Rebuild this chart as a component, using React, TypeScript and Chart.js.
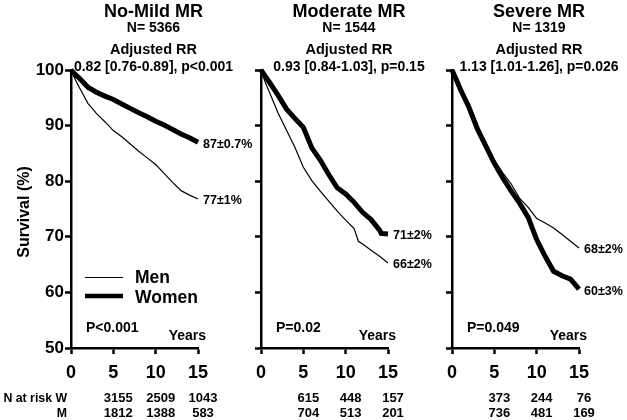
import React, { useEffect, useRef } from "react";
import Chart from "chart.js/auto";

const W = 627;
const H = 420;
const FONT = '"Liberation Sans", Arial, Helvetica, sans-serif';

// ---- data (survival %, years) ----
const years = [0, 0.5, 1, 2, 3, 4, 5, 6, 7, 8, 9, 10, 11, 12, 13, 14, 15];

const noMildMen = [100, 98.3, 96.8, 94, 92.2, 90.7, 89.1, 88, 86.7, 85.4, 84.2, 83, 81.4, 79.8, 78.3, 77.5, 76.8];
const noMildWomen = [100, 99.2, 98.5, 96.9, 96, 95.3, 94.7, 93.9, 93.1, 92.3, 91.6, 90.8, 90.1, 89.3, 88.5, 87.8, 87];

const moderateMenYears = [0, 0.5, 1, 2, 3, 4, 5, 6, 7, 8, 9, 10, 11, 11.5, 12, 13, 14, 15];
const moderateMen = [100, 97.8, 96, 92.3, 89.2, 86.1, 82.5, 80.1, 78.2, 76.4, 74.6, 73, 71.5, 69.2, 68.7, 67.6, 66.5, 65.3];
const moderateWomenYears = [0, 0.5, 1, 2, 3, 4, 5, 6, 7, 8, 9, 10, 11, 12, 13, 14, 14.2, 15];
const moderateWomen = [100, 98.9, 97.8, 95.5, 93, 91.3, 89.7, 86, 83.8, 81.2, 78.8, 77.7, 76.2, 74.4, 73.1, 71.2, 70.6, 70.5];

const severeMen = [100, 98.3, 96.5, 93.3, 89.6, 86.8, 83.8, 81.5, 79.5, 76.9, 75.3, 73.3, 72.5, 71.6, 70.4, 69.2, 68];
const severeWomen = [100, 98.3, 96.5, 93.3, 89.4, 86.3, 83.2, 80.6, 78.2, 76, 73.5, 69.5, 66.5, 63.8, 63, 62.4, 60.6];

const riskYears = [5, 10, 15];
const noMildRiskW = [3155, 2509, 1043];
const noMildRiskM = [1812, 1388, 583];
const moderateRiskW = [615, 448, 157];
const moderateRiskM = [704, 513, 201];
const severeRiskW = [373, 244, 76];
const severeRiskM = [736, 481, 169];

const xTicks = [0, 5, 10, 15];
const yTicks = [50, 60, 70, 80, 90, 100];

type Panel = {
  title: string;
  n: string;
  rr: string;
  p: string;
  menX: number[];
  men: number[];
  womenX: number[];
  women: number[];
  menLabel: string;
  womenLabel: string;
  riskW: number[];
  riskM: number[];
  plotLeft: number;
  plotRight: number;
  titleX: number;
  first: boolean;
};

const panels: Panel[] = [
  {
    title: "No-Mild MR", n: "N= 5366", rr: "0.82 [0.76-0.89], p<0.001", p: "P<0.001",
    menX: years, men: noMildMen, womenX: years, women: noMildWomen,
    menLabel: "77\u00b11%", womenLabel: "87\u00b10.7%",
    riskW: noMildRiskW, riskM: noMildRiskM,
    plotLeft: 71, plotRight: 198, titleX: 153.5, first: true,
  },
  {
    title: "Moderate MR", n: "N= 1544", rr: "0.93 [0.84-1.03], p=0.15", p: "P=0.02",
    menX: moderateMenYears, men: moderateMen, womenX: moderateWomenYears, women: moderateWomen,
    menLabel: "66\u00b12%", womenLabel: "71\u00b12%",
    riskW: moderateRiskW, riskM: moderateRiskM,
    plotLeft: 261, plotRight: 388, titleX: 349, first: false,
  },
  {
    title: "Severe MR", n: "N= 1319", rr: "1.13 [1.01-1.26], p=0.026", p: "P=0.049",
    menX: years, men: severeMen, womenX: years, women: severeWomen,
    menLabel: "68\u00b12%", womenLabel: "60\u00b13%",
    riskW: severeRiskW, riskM: severeRiskM,
    plotLeft: 452, plotRight: 579, titleX: 539, first: false,
  },
];

const PLOT_TOP = 70;
const PLOT_BOTTOM = 348;
const Y_W = 10;
const X_H = 40;

function makeAnnot(p: Panel) {
  return {
    id: "annot",
    afterDraw(chart: any) {
      const ctx: CanvasRenderingContext2D = chart.ctx;
      const { left, right } = chart.chartArea;
      const xs = chart.scales.x;
      const ys = chart.scales.y;
      ctx.save();
      ctx.fillStyle = "#000";
      ctx.strokeStyle = "#000";
      ctx.textBaseline = "alphabetic";
      ctx.textAlign = "center";
      ctx.font = `bold 18px ${FONT}`;
      ctx.fillText(p.title, p.titleX, 16.5);
      ctx.font = `bold 14px ${FONT}`;
      ctx.fillText(p.n, p.titleX, 32.3);
      ctx.font = `bold 14.5px ${FONT}`;
      ctx.fillText("Adjusted RR", p.titleX, 54);
      ctx.font = `bold 14px ${FONT}`;
      ctx.fillText(p.rr, p.titleX, 70.5);

      ctx.textAlign = "left";
      ctx.fillText(p.p, left + 15, 331.5);
      ctx.textAlign = "right";
      ctx.fillText("Years", right + 8, 340);

      ctx.textAlign = "left";
      ctx.textBaseline = "middle";
      ctx.font = `bold 12.5px ${FONT}`;
      ctx.fillText(p.womenLabel, right + 5, ys.getPixelForValue(p.women[p.women.length - 1]) + 2);
      ctx.fillText(p.menLabel, right + 5, ys.getPixelForValue(p.men[p.men.length - 1]) + 2);

      ctx.textAlign = "center";
      ctx.textBaseline = "alphabetic";
      ctx.font = `bold 13px ${FONT}`;
      riskYears.forEach((t, i) => {
        const x = xs.getPixelForValue(t) + 5;
        ctx.fillText(String(p.riskW[i]), x, 401.5);
        ctx.fillText(String(p.riskM[i]), x, 416.5);
      });

      if (p.first) {
        ctx.textAlign = "right";
        ctx.font = `bold 12.3px ${FONT}`;
        ctx.fillText("N at risk W", 67, 401.5);
        ctx.fillText("M", 67, 416.5);

        // y-axis title
        ctx.save();
        ctx.translate(25, 212);
        ctx.rotate(-Math.PI / 2);
        ctx.textAlign = "center";
        ctx.textBaseline = "middle";
        ctx.font = `bold 16px ${FONT}`;
        ctx.fillText("Survival (%)", 0, 0);
        ctx.restore();

        // legend
        ctx.lineWidth = 1.2;
        ctx.beginPath();
        ctx.moveTo(85, 277.5);
        ctx.lineTo(123, 277.5);
        ctx.stroke();
        ctx.lineWidth = 4.5;
        ctx.beginPath();
        ctx.moveTo(85, 296);
        ctx.lineTo(123, 296);
        ctx.stroke();
        ctx.textAlign = "left";
        ctx.font = `bold 17.5px ${FONT}`;
        ctx.fillText("Men", 135, 283);
        ctx.fillText("Women", 135, 302.5);
      }
      ctx.restore();
    },
  };
}

function PanelChart({ p }: { p: Panel }) {
  const ref = useRef<HTMLCanvasElement | null>(null);
  useEffect(() => {
    if (!ref.current) return;
    const yW = p.first ? 71 : Y_W;
    const axisGrid = {
      drawOnChartArea: false,
      drawTicks: true,
      tickLength: 6,
      tickWidth: 2.5,
      tickColor: "#000",
      color: "#000",
    };
    const axisBorder = { display: true, color: "#000", width: 2.5 };
    const chart = new Chart(ref.current, {
      type: "line",
      data: {
        datasets: [
          {
            label: "Men",
            data: p.menX.map((x, i) => ({ x, y: p.men[i] })),
            borderColor: "#000",
            borderWidth: 1.2,
            pointRadius: 0,
            tension: 0,
            fill: false,
            clip: false,
          } as any,
          {
            label: "Women",
            data: p.womenX.map((x, i) => ({ x, y: p.women[i] })),
            borderColor: "#000",
            borderWidth: 5,
            pointRadius: 0,
            tension: 0,
            fill: false,
            clip: false,
          } as any,
        ],
      },
      options: {
        animation: false,
        responsive: false,
        events: [],
        layout: {
          padding: {
            left: p.plotLeft - yW,
            right: W - p.plotRight,
            top: PLOT_TOP,
            bottom: H - PLOT_BOTTOM - X_H,
          },
        },
        plugins: {
          legend: { display: false },
          tooltip: { enabled: false },
        },
        scales: {
          x: {
            type: "linear",
            min: 0,
            max: 15,
            afterFit: (s: any) => {
              s.height = X_H;
            },
            afterBuildTicks: (s: any) => {
              s.ticks = xTicks.map((v) => ({ value: v }));
            },
            ticks: {
              color: "#000",
              font: { family: FONT, size: 18, weight: "bold" },
              padding: 8,
              maxRotation: 0,
              autoSkip: false,
            },
            grid: axisGrid,
            border: axisBorder,
          },
          y: {
            type: "linear",
            min: 50,
            max: 100,
            afterFit: (s: any) => {
              s.width = yW;
            },
            afterBuildTicks: (s: any) => {
              s.ticks = yTicks.map((v) => ({ value: v }));
            },
            ticks: {
              color: "#000",
              font: { family: FONT, size: 17, weight: "bold" },
              padding: 1,
              autoSkip: false,
              callback: (v: any) => (p.first ? String(v) : ""),
            },
            grid: axisGrid,
            border: axisBorder,
          },
        },
      } as any,
      plugins: [makeAnnot(p)],
    });
    return () => chart.destroy();
  }, [p]);
  return (
    <canvas
      ref={ref}
      width={W}
      height={H}
      style={{ position: "absolute", left: 0, top: 0, width: W, height: H, display: "block" }}
    />
  );
}

export default function App() {
  return (
    <div
      style={{
        position: "fixed",
        left: 0,
        top: 0,
        width: W,
        height: H,
        background: "#fff",
        overflow: "hidden",
      }}
    >
      {panels.map((p) => (
        <PanelChart key={p.title} p={p} />
      ))}
    </div>
  );
}
